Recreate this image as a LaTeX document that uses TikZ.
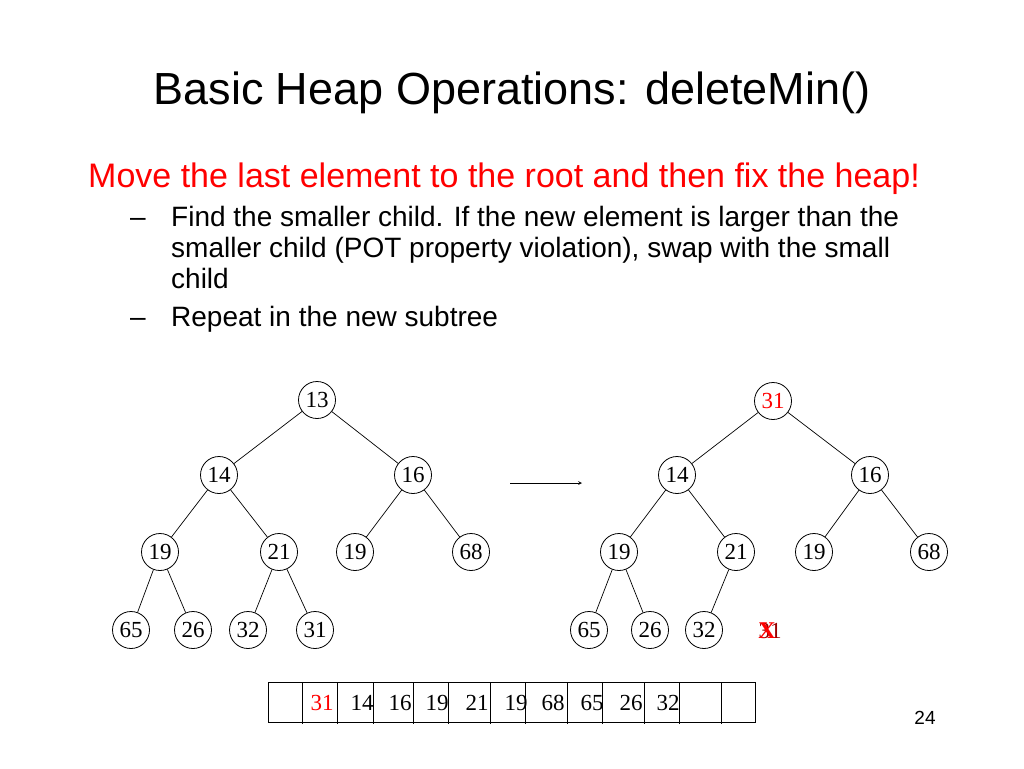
\documentclass[tikz,border=0pt]{standalone}
\usepackage{fontspec}
\setmainfont{Liberation Sans}
\newfontfamily\tnr{Liberation Serif}
\begin{document}
\begin{tikzpicture}[x=1pt,y=-1pt,
  hn/.style={draw,circle,line width=0.8pt,minimum size=37pt,inner sep=0pt,font=\tnr\fontsize{23}{23}\selectfont},
  ed/.style={draw,line width=0.7pt},
  cell/.style={font=\tnr\fontsize{23}{23}\selectfont,anchor=center}]
\useasboundingbox (0,0) rectangle (1024,768);
\node[anchor=base] (title) at (512,104) {\fontsize{45}{45}\selectfont Basic Heap Operations: deleteMin()};
\node[anchor=base west,text=red,inner sep=0] (l0) at (88,187) {\fontsize{34}{34}\selectfont Move the last element to the root and then fix the heap!};
\begin{scope}[every node/.style={anchor=base west,inner sep=0,font=\fontsize{28}{28}\selectfont}]
\node (d1) at (130,226) {--};
\node (t1) at (171,226) {Find the smaller child. If the new element is larger than the};
\node (t2) at (171,257) {smaller child (POT property violation), swap with the small};
\node (t3) at (171,288) {child};
\node (d2) at (130,326) {--};
\node (t4) at (171,326) {Repeat in the new subtree};
\end{scope}
% left tree
\node[hn] (a1) at (317,400) {13};
\node[hn] (a2) at (219,475) {14};
\node[hn] (a3) at (413,475) {16};
\node[hn] (a4) at (160,552) {19};
\node[hn] (a5) at (279,552) {21};
\node[hn] (a6) at (355,552) {19};
\node[hn] (a7) at (471,552) {68};
\node[hn] (a8) at (131,630) {65};
\node[hn] (a9) at (193,630) {26};
\node[hn] (a10) at (248,630) {32};
\node[hn] (a11) at (315,630) {31};
\draw[ed] (a1)--(a2) (a1)--(a3) (a2)--(a4) (a2)--(a5) (a3)--(a6) (a3)--(a7) (a4)--(a8) (a4)--(a9) (a5)--(a10) (a5)--(a11);
% arrow
\coordinate (ar1) at (510,483); \coordinate (ar2) at (582,483);
\draw[-stealth,line width=0.7pt] (ar1)--(ar2);
% right tree
\node[hn,text=red] (b1) at (773,401) {31};
\node[hn] (b2) at (677,475) {14};
\node[hn] (b3) at (870,475) {16};
\node[hn] (b4) at (619,552) {19};
\node[hn] (b5) at (736,552) {21};
\node[hn] (b6) at (814,552) {19};
\node[hn] (b7) at (929,552) {68};
\node[hn] (b8) at (589,630) {65};
\node[hn] (b9) at (650,630) {26};
\node[hn] (b10) at (704,630) {32};
\draw[ed] (b1)--(b2) (b1)--(b3) (b2)--(b4) (b2)--(b5) (b3)--(b6) (b3)--(b7) (b4)--(b8) (b4)--(b9) (b5)--(b10);
\node[cell,text=red!60!black] (x31) at (770,631) {31};
\node[cell,text=red,font=\tnr\bfseries\fontsize{24}{24}\selectfont] (xx) at (767,631) {X};
% array
\draw[line width=0.7pt] (268,682) rectangle (755,722);
\foreach \b in {302,337,373,413,448,490,525,567,602,644,679,721}
  \draw[line width=0.7pt] (\b,682)--(\b,724);
\node[cell,text=red] (c1) at (322,703) {31};
\foreach \v/\x [count=\i] in {14/362,16/400,19/437,21/477,19/516,68/553,65/592,26/631,32/668}
  \node[cell] (c\i x) at (\x,703) {\v};
\node (pg) at (925,718) {\fontsize{19}{19}\selectfont 24};
\end{tikzpicture}
\end{document}
